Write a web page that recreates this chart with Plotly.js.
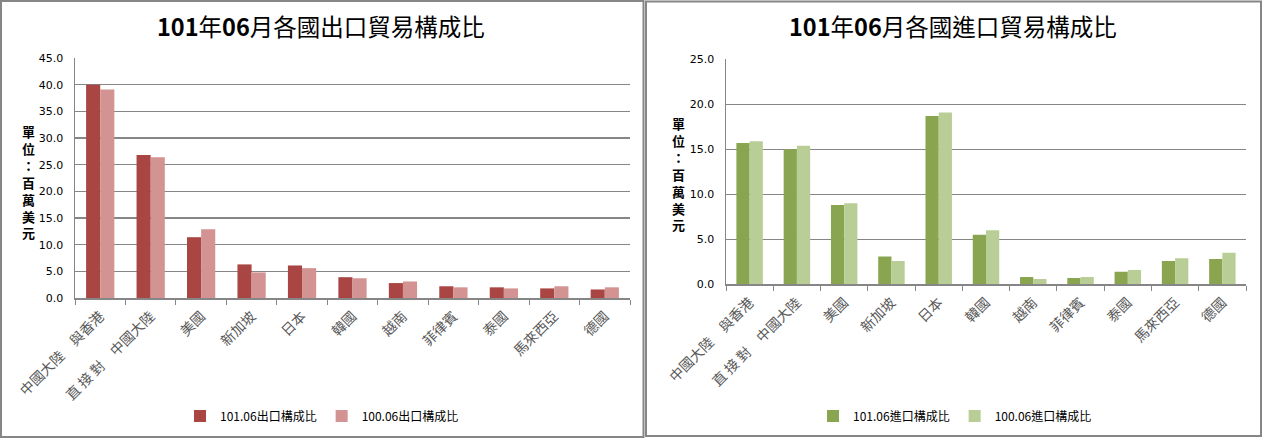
<!DOCTYPE html>
<html>
<head>
<meta charset="utf-8">
<script src="https://cdn.plot.ly/plotly-3.0.1.min.js"></script>
<style>html,body{margin:0;padding:0;background:#fff;}#chart{width:1262px;height:438px;}</style>
</head>
<body>
<div id="chart"></div>
<script>
// Data
const exportCategories = ["中國大陸　與香港", "直 接 對　中國大陸", "美國", "新加坡", "日本", "韓國", "越南", "菲律賓", "泰國", "馬來西亞", "德國"];
const export101 = [40.0, 26.8, 11.4, 6.3, 6.1, 3.9, 2.8, 2.2, 2.0, 1.8, 1.6];
const export100 = [39.1, 26.4, 12.9, 4.8, 5.6, 3.7, 3.1, 2.0, 1.8, 2.2, 2.0];

const importCategories = ["中國大陸　與香港", "直 接 對　中國大陸", "美國", "新加坡", "日本", "韓國", "越南", "菲律賓", "泰國", "馬來西亞", "德國"];
const import101 = [15.7, 15.0, 8.8, 3.1, 18.7, 5.5, 0.8, 0.7, 1.4, 2.6, 2.8];
const import100 = [15.9, 15.4, 9.0, 2.6, 19.1, 6.0, 0.6, 0.8, 1.6, 2.9, 3.5];

const seriesNames = {
  exp101: "101.06出口構成比", exp100: "100.06出口構成比",
  imp101: "101.06進口構成比", imp100: "100.06進口構成比"
};
const titles = ["<b>101</b>年<b>06</b>月各國出口貿易構成比", "<b>101</b>年<b>06</b>月各國進口貿易構成比"];
const yUnit = "單<br>位<br>：<br>百<br>萬<br>美<br>元";

const W = 1262, H = 438;
const px = x => x / W;
const py = y => 1 - y / H;

const cjk = '"Noto Sans CJK TC", "Noto Sans", sans-serif';
const numFont = '"DejaVu Sans", Verdana, sans-serif';

const traces = [
  {type: 'bar', x: exportCategories, y: export101, name: seriesNames.exp101, marker: {color: '#A94644'}, xaxis: 'x', yaxis: 'y', legend: 'legend'},
  {type: 'bar', x: exportCategories, y: export100, name: seriesNames.exp100, marker: {color: '#D39392'}, xaxis: 'x', yaxis: 'y', legend: 'legend'},
  {type: 'bar', x: importCategories, y: import101, name: seriesNames.imp101, marker: {color: '#8AA54F'}, xaxis: 'x2', yaxis: 'y2', legend: 'legend2'},
  {type: 'bar', x: importCategories, y: import100, name: seriesNames.imp100, marker: {color: '#B9CE97'}, xaxis: 'x2', yaxis: 'y2', legend: 'legend2'}
];

const xCommon = {
  type: 'category', showline: true, linecolor: '#868686', linewidth: 1.5,
  ticks: 'outside', tickson: 'boundaries', ticklen: 5, tickcolor: '#868686', tickwidth: 1,
  tickangle: -45, tickfont: {family: cjk, size: 14, color: '#595959'}, ticklabelstandoff: 3,
  showgrid: false, zeroline: false, fixedrange: true
};
const yCommon = {
  showline: true, linecolor: '#868686', linewidth: 1.5,
  showgrid: true, gridcolor: '#868686', gridwidth: 1.2, zeroline: false,
  ticks: '', dtick: 5, tickformat: '.1f', ticklabelstandoff: 8,
  tickfont: {family: numFont, size: 11, color: '#000'}, fixedrange: true
};

const layout = {
  width: W, height: H,
  margin: {l: 0, r: 0, t: 0, b: 0},
  paper_bgcolor: '#fff', plot_bgcolor: '#fff',
  bargap: 0.44, bargroupgap: 0,
  showlegend: true,
  xaxis: Object.assign({}, xCommon, {domain: [px(75), px(630)], anchor: 'y'}),
  yaxis: Object.assign({}, yCommon, {domain: [py(298), py(58)], range: [0, 45], anchor: 'x'}),
  xaxis2: Object.assign({}, xCommon, {domain: [px(726), px(1246)], anchor: 'y2'}),
  yaxis2: Object.assign({}, yCommon, {domain: [py(284.3), py(59.3)], range: [0, 25], anchor: 'x2'}),
  legend: {orientation: 'h', x: px(322), xanchor: 'center', y: py(416), yanchor: 'middle',
    font: {family: cjk, size: 12, color: '#000'}, itemwidth: 30, bgcolor: 'rgba(0,0,0,0)'},
  legend2: {orientation: 'h', x: px(955), xanchor: 'center', y: py(416), yanchor: 'middle',
    font: {family: cjk, size: 12, color: '#000'}, itemwidth: 30, bgcolor: 'rgba(0,0,0,0)'},
  annotations: [
    {text: titles[0], xref: 'paper', yref: 'paper', x: px(321), y: py(26), xanchor: 'center', yanchor: 'middle',
      showarrow: false, font: {family: cjk, size: 23.5, color: '#000'}},
    {text: titles[1], xref: 'paper', yref: 'paper', x: px(953), y: py(26), xanchor: 'center', yanchor: 'middle',
      showarrow: false, font: {family: cjk, size: 23.5, color: '#000'}},
    {text: '<b>' + yUnit + '</b>', xref: 'paper', yref: 'paper', x: px(28), y: py(182), xanchor: 'center', yanchor: 'middle',
      showarrow: false, font: {family: cjk, size: 13, color: '#000'}},
    {text: '<b>' + yUnit + '</b>', xref: 'paper', yref: 'paper', x: px(678), y: py(174), xanchor: 'center', yanchor: 'middle',
      showarrow: false, font: {family: cjk, size: 13, color: '#000'}}
  ],
  shapes: [
    {type: 'rect', xref: 'paper', yref: 'paper', x0: px(1), x1: px(643.5), y0: py(437), y1: py(1),
      line: {color: '#868686', width: 2}, fillcolor: 'rgba(0,0,0,0)'},
    {type: 'rect', xref: 'paper', yref: 'paper', x0: px(646), x1: px(1261), y0: py(436), y1: py(1.5),
      line: {color: '#868686', width: 2}, fillcolor: 'rgba(0,0,0,0)'}
  ]
};

Plotly.newPlot('chart', traces, layout, {displayModeBar: false, staticPlot: true});
</script>
</body>
</html>
